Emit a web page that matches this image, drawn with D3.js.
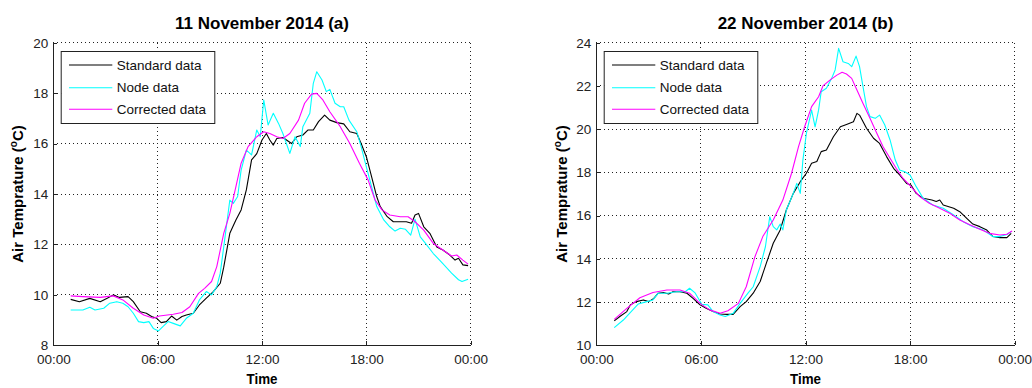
<!DOCTYPE html>
<html>
<head>
<meta charset="utf-8">
<script src="https://cdn.jsdelivr.net/npm/d3@7"></script>
<style>
  html, body { margin: 0; padding: 0; background: #fff; }
  svg { display: block; }
  text { font-family: "Liberation Sans", Arial, Helvetica, sans-serif; }
</style>
</head>
<body>
<svg id="chart" width="1032" height="388"></svg>
<script>
// ---------- DATA ----------
const seriesNames = ["Standard data", "Node data", "Corrected data"];
const seriesColors = ["#000000", "#00ffff", "#ff00ff"];
const timeTicks = [0, 6, 12, 18, 24];
const timeTickLabels = ["00:00", "06:00", "12:00", "18:00", "00:00"];
const titles = ["11 November 2014 (a)", "22 November 2014 (b)"];
const yTicksA = [8, 10, 12, 14, 16, 18, 20];
const yTicksB = [10, 12, 14, 16, 18, 20, 22, 24];

// [hour, °C]
const standardA = [[1.0,9.82],[1.5,9.73],[2.1,9.86],[2.7,9.73],[3.1,9.87],[3.45,10.0],[3.8,9.9],[4.3,9.93],[4.6,9.73],[5.0,9.33],[5.35,9.27],[5.65,9.14],[5.95,9.07],[6.2,8.9],[6.5,8.94],[6.8,9.16],[7.1,9.0],[7.4,9.14],[7.65,9.2],[8.05,9.27],[8.4,9.6],[8.8,9.87],[9.2,10.13],[9.6,10.46],[9.8,11.1],[10.15,12.44],[10.5,12.97],[10.8,13.37],[11.1,14.16],[11.4,15.35],[11.7,15.6],[12.0,16.14],[12.25,16.4],[12.45,16.14],[12.65,15.94],[12.85,16.2],[13.2,16.24],[13.7,16.0],[14.0,16.27],[14.35,16.34],[14.65,16.54],[14.95,16.54],[15.25,16.87],[15.6,17.13],[15.9,16.93],[16.3,16.83],[16.7,16.78],[17.05,16.47],[17.45,16.4],[17.7,16.0],[18.0,15.48],[18.3,14.69],[18.6,13.89],[18.8,13.5],[19.2,13.1],[19.55,12.9],[19.95,12.9],[20.3,12.9],[20.6,12.84],[20.8,13.17],[21.0,13.23],[21.3,12.7],[21.65,12.44],[22.05,11.9],[22.4,11.78],[22.8,11.58],[23.1,11.38],[23.3,11.45],[23.55,11.19],[23.85,11.16]];
const nodeA = [[1.0,9.4],[1.7,9.4],[2.1,9.51],[2.4,9.4],[2.9,9.47],[3.25,9.67],[3.65,9.73],[4.0,9.67],[4.3,9.53],[4.6,9.27],[4.9,8.94],[5.2,8.9],[5.5,8.94],[5.75,8.67],[6.05,8.57],[6.3,8.74],[6.6,8.94],[6.9,8.87],[7.3,8.77],[7.65,9.07],[8.05,9.27],[8.4,9.8],[8.8,10.13],[9.1,10.0],[9.4,10.33],[9.6,10.86],[9.8,11.9],[10.15,13.76],[10.35,13.63],[10.6,13.9],[10.8,14.95],[11.1,15.74],[11.4,15.55],[11.7,16.54],[11.9,16.27],[12.1,17.73],[12.35,16.74],[12.65,17.2],[12.95,16.8],[13.2,16.4],[13.6,15.61],[13.9,16.27],[14.2,15.88],[14.35,16.67],[14.75,17.2],[14.95,18.39],[15.15,18.85],[15.45,18.52],[15.7,18.06],[15.9,18.15],[16.2,17.6],[16.5,17.46],[16.7,17.46],[17.0,16.93],[17.45,16.47],[17.7,15.88],[18.0,15.08],[18.3,14.29],[18.6,13.5],[19.0,12.97],[19.35,12.7],[19.65,12.53],[19.95,12.64],[20.25,12.6],[20.55,12.37],[20.8,13.0],[21.1,12.3],[21.4,12.04],[21.85,11.64],[22.4,11.24],[22.9,10.86],[23.3,10.6],[23.5,10.53],[23.85,10.62]];
const correctedA = [[1.0,9.96],[1.7,9.93],[2.7,9.9],[3.45,9.96],[4.0,9.8],[4.6,9.47],[5.2,9.2],[5.75,9.07],[6.1,9.16],[6.9,9.23],[7.4,9.3],[7.85,9.53],[8.35,10.06],[8.7,10.26],[9.1,10.53],[9.4,11.12],[9.8,12.44],[10.15,13.23],[10.5,14.29],[10.8,15.22],[11.2,15.88],[11.7,16.27],[12.1,16.47],[12.45,16.4],[12.85,16.27],[13.2,16.2],[13.6,16.4],[14.1,16.93],[14.45,17.6],[14.85,17.96],[15.15,17.99],[15.5,17.73],[15.9,17.26],[16.5,16.67],[17.05,16.0],[17.6,15.22],[18.1,14.56],[18.5,13.76],[18.9,13.37],[19.35,13.17],[19.95,13.1],[20.4,13.1],[20.8,12.9],[21.3,12.57],[21.85,12.04],[22.4,11.78],[22.9,11.54],[23.2,11.58],[23.55,11.38],[23.85,11.22]];

const standardB = [[1.03,11.13],[1.35,11.33],[1.75,11.56],[1.95,11.87],[2.3,12.02],[2.7,12.1],[3.0,12.02],[3.3,12.17],[3.55,12.41],[3.85,12.44],[4.15,12.37],[4.4,12.48],[4.8,12.48],[5.2,12.41],[5.55,12.17],[5.95,11.87],[6.3,11.71],[6.7,11.56],[7.1,11.45],[7.5,11.43],[7.85,11.43],[8.25,11.79],[8.6,12.02],[9.0,12.41],[9.4,12.95],[9.75,13.79],[10.15,14.72],[10.55,15.34],[10.9,16.26],[11.3,17.03],[11.7,17.57],[12.05,17.96],[12.35,18.42],[12.65,18.5],[12.9,18.96],[13.2,19.04],[13.6,19.65],[14.0,20.11],[14.35,20.22],[14.75,20.34],[14.95,20.73],[15.1,20.65],[15.5,20.04],[15.9,19.58],[16.25,19.34],[16.65,18.73],[17.05,18.19],[17.4,17.88],[17.8,17.49],[18.05,17.42],[18.35,17.03],[18.75,16.8],[19.25,16.72],[19.5,16.65],[19.7,16.72],[19.9,16.49],[20.5,16.34],[20.85,16.18],[21.25,15.87],[21.6,15.61],[22.0,15.49],[22.4,15.33],[22.75,15.03],[23.15,14.98],[23.55,14.98],[23.8,15.18]];
const nodeB = [[1.03,10.82],[1.55,11.17],[2.0,11.56],[2.4,11.91],[2.9,12.02],[3.25,12.1],[3.55,12.41],[4.05,12.41],[4.6,12.48],[5.1,12.48],[5.35,12.64],[5.65,12.44],[6.05,11.9],[6.4,11.87],[6.7,11.56],[7.1,11.4],[7.4,11.33],[7.85,11.48],[8.25,11.94],[8.7,12.41],[9.0,12.71],[9.4,13.64],[9.7,14.56],[9.95,15.95],[10.15,15.49],[10.35,15.34],[10.55,15.61],[10.7,15.34],[10.9,16.26],[11.3,17.03],[11.5,17.49],[11.7,17.03],[11.85,18.57],[12.05,19.8],[12.35,20.88],[12.55,20.11],[12.75,20.88],[12.9,21.73],[13.2,21.89],[13.5,22.35],[13.7,22.74],[13.9,23.74],[14.15,23.12],[14.45,23.04],[14.65,22.89],[14.9,23.38],[15.1,22.89],[15.3,21.96],[15.5,21.04],[15.7,20.58],[16.0,20.5],[16.25,20.65],[16.55,20.19],[16.85,19.5],[17.15,18.57],[17.4,18.11],[17.7,18.03],[18.0,17.88],[18.35,17.34],[18.75,16.8],[19.3,16.49],[19.9,16.34],[20.5,16.03],[21.05,15.72],[21.6,15.49],[22.2,15.33],[22.75,15.03],[23.15,15.03],[23.55,15.13],[23.8,15.26]];
const correctedB = [[1.03,11.2],[1.75,11.71],[2.5,12.2],[3.25,12.44],[4.05,12.56],[4.8,12.56],[5.35,12.41],[5.95,11.94],[6.5,11.64],[7.1,11.48],[7.55,11.6],[8.15,11.94],[8.6,12.71],[9.1,14.1],[9.55,15.03],[10.15,15.8],[10.7,16.72],[11.2,17.96],[11.6,19.19],[11.95,20.11],[12.35,21.04],[12.75,21.5],[13.0,22.0],[13.4,22.27],[13.8,22.5],[14.1,22.63],[14.35,22.55],[14.65,22.35],[14.95,21.81],[15.3,21.19],[15.7,20.5],[16.05,19.88],[16.45,19.19],[16.85,18.65],[17.2,18.19],[17.6,17.72],[18.05,17.34],[18.55,16.88],[19.1,16.57],[19.7,16.34],[20.3,16.1],[20.85,15.8],[21.45,15.57],[22.0,15.37],[22.55,15.18],[23.15,15.1],[23.55,15.14],[23.85,15.29]];

// ---------- DRAW ----------
const svg = d3.select("#chart");
const plotTop = 42.7, plotBottom = 345.3;

const panels = [
  { left: 53.3, right: 470.7, yTicks: yTicksA, series: [standardA, nodeA, correctedA], title: titles[0], ylabelX: 23 },
  { left: 596.3, right: 1014.7, yTicks: yTicksB, series: [standardB, nodeB, correctedB], title: titles[1], ylabelX: 567 }
];

panels.forEach(p => {
  const x = d3.scaleLinear().domain([0, 24]).range([p.left, p.right]);
  const y = d3.scaleLinear().domain(d3.extent(p.yTicks)).range([plotBottom, plotTop]);
  const g = svg.append("g");

  // grid
  g.append("g").selectAll("line").data(p.yTicks).join("line")
    .attr("x1", p.left).attr("x2", p.right)
    .attr("y1", d => y(d)).attr("y2", d => y(d))
    .attr("stroke", "#222").attr("stroke-width", 1).attr("stroke-dasharray", "1,3")
    .attr("shape-rendering", "crispEdges");
  g.append("g").selectAll("line").data(timeTicks).join("line")
    .attr("x1", d => x(d)).attr("x2", d => x(d))
    .attr("y1", plotTop).attr("y2", plotBottom)
    .attr("stroke", "#222").attr("stroke-width", 1).attr("stroke-dasharray", "1,3")
    .attr("shape-rendering", "crispEdges");

  // lines
  const line = d3.line().x(d => x(d[0])).y(d => y(d[1]));
  p.series.forEach((s, i) => {
    g.append("path").datum(s).attr("d", line)
      .attr("fill", "none").attr("stroke", seriesColors[i]).attr("stroke-width", 1.1)
      .attr("stroke-linejoin", "round");
  });

  // axes
  const xAxis = d3.axisBottom(x).tickValues(timeTicks)
    .tickFormat((d, i) => timeTickLabels[i]).tickSizeInner(-4).tickSizeOuter(0).tickPadding(9);
  const yAxis = d3.axisLeft(y).tickValues(p.yTicks).tickSizeInner(-4).tickSizeOuter(0).tickPadding(5);
  const gx = g.append("g").attr("transform", `translate(0,${plotBottom})`).call(xAxis);
  const gy = g.append("g").attr("transform", `translate(${p.left},0)`).call(yAxis);
  [gx, gy].forEach(a => {
    a.select(".domain").attr("stroke", "#222").attr("shape-rendering", "crispEdges");
    a.selectAll(".tick line").attr("stroke", "#222").attr("shape-rendering", "crispEdges");
    a.selectAll(".tick text").attr("font-size", "13.5px").attr("fill", "#222")
      .attr("font-family", "'Liberation Sans', Arial, sans-serif");
  });

  // title
  g.append("text").attr("x", (p.left + p.right) / 2).attr("y", 28.5)
    .attr("text-anchor", "middle").attr("font-size", "17px").attr("font-weight", "bold")
    .attr("fill", "#000").text(p.title);

  // x label
  g.append("text").attr("x", (p.left + p.right) / 2).attr("y", 384)
    .attr("text-anchor", "middle").attr("font-size", "15px").attr("font-weight", "bold")
    .attr("textLength", 31).attr("lengthAdjust", "spacingAndGlyphs")
    .attr("fill", "#000").text("Time");

  // y label
  const yl = g.append("text")
    .attr("transform", `translate(${p.ylabelX},${(plotTop + plotBottom) / 2}) rotate(-90)`)
    .attr("text-anchor", "middle").attr("font-size", "15px").attr("font-weight", "bold").attr("fill", "#000");
  yl.append("tspan").text("Air Temprature (");
  yl.append("tspan").attr("font-size", "10px").attr("dy", -6).text("o");
  yl.append("tspan").attr("dy", 6).text("C)");

  // legend
  const lx = p.left + 7.4, ly = 51, lw = 153.6, lh = 72;
  const lg = g.append("g");
  lg.append("rect").attr("x", lx + 0.5).attr("y", ly + 0.5).attr("width", lw).attr("height", lh)
    .attr("fill", "#fff").attr("stroke", "#222").attr("stroke-width", 1);
  const rowsY = [65, 87.7, 109.3];
  seriesNames.forEach((n, i) => {
    lg.append("line").attr("x1", lx + 8.3).attr("x2", lx + 51.6)
      .attr("y1", rowsY[i]).attr("y2", rowsY[i])
      .attr("stroke", seriesColors[i]).attr("stroke-width", 1.1);
    lg.append("text").attr("x", lx + 56).attr("y", rowsY[i]).attr("dy", "0.35em")
      .attr("font-size", "13.5px").attr("fill", "#111").text(n);
  });
});
</script>
</body>
</html>
